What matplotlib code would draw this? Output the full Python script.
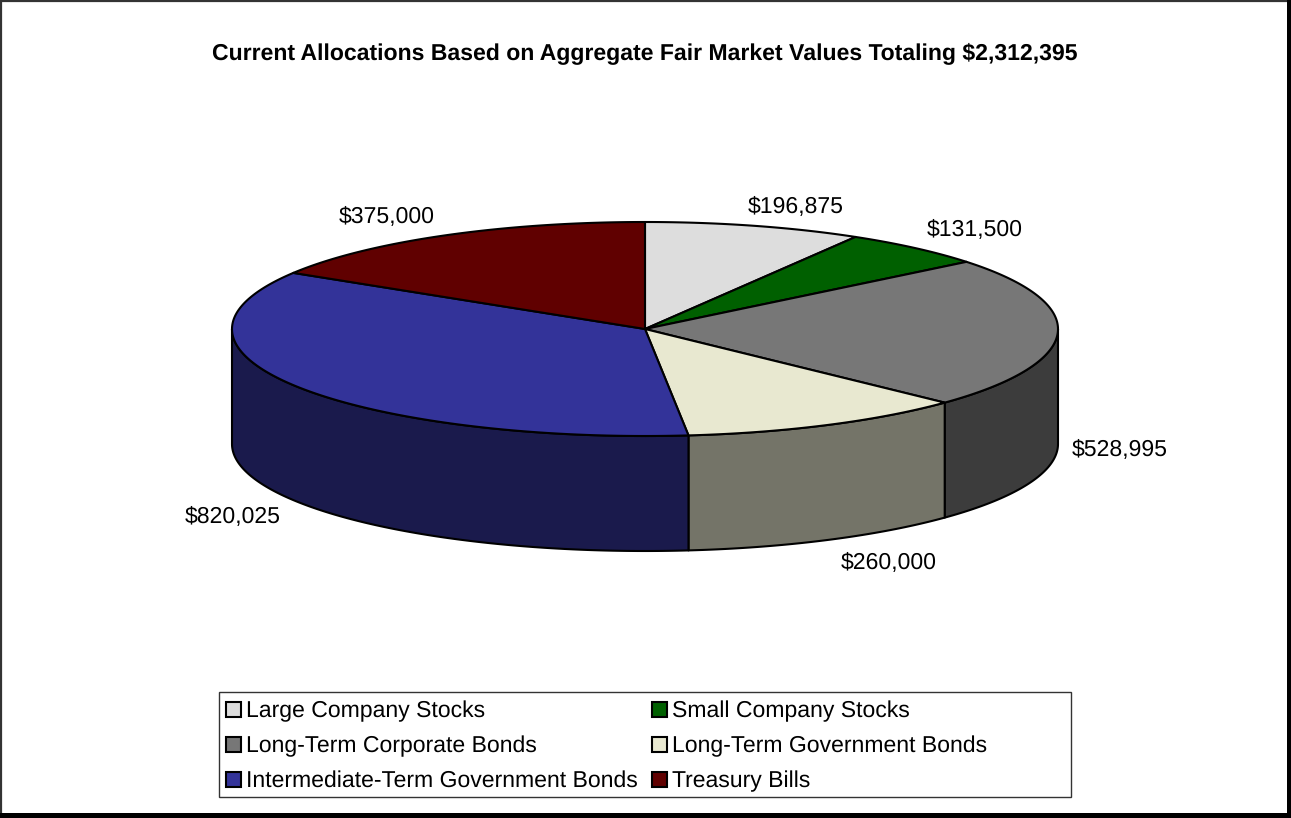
import numpy as np
import matplotlib
matplotlib.use('Agg')
import matplotlib.pyplot as plt
from matplotlib.patches import Polygon, Rectangle

plt.rcParams['font.family'] = ['Liberation Sans', 'DejaVu Sans']
plt.rcParams['text.hinting'] = 'no_hinting'
plt.rcParams['text.hinting_factor'] = 1

title = "Current Allocations Based on Aggregate Fair Market Values Totaling $2,312,395"
names = ["Large Company Stocks", "Small Company Stocks", "Long-Term Corporate Bonds",
         "Long-Term Government Bonds", "Intermediate-Term Government Bonds", "Treasury Bills"]
values = [196875, 131500, 528995, 260000, 820025, 375000]
top_colors = ["#dddddd", "#006000", "#777777", "#e8e8d0", "#333399", "#600000"]
side_colors = ["#6e6e6e", "#003000", "#3c3c3c", "#747468", "#1a1a4c", "#300000"]
label_pos = [(796, 212), (975, 235), (1120, 455), (889, 568), (233, 522), (387, 222)]

cx, cy, rx, ry, depth = 645, 329, 413, 107, 115


def arc(a0, a1, yoff=0):
    # angles clockwise from 12 o'clock, in degrees
    t = np.radians(np.linspace(a0, a1, max(int(abs(a1 - a0) * 2), 2)))
    return np.column_stack([cx + rx * np.sin(t), cy + yoff - ry * np.cos(t)])


fig = plt.figure(figsize=(12.91, 8.18), dpi=100)
ax = fig.add_axes([0, 0, 1, 1])
ax.set_xlim(0, 1291)
ax.set_ylim(818, 0)
ax.axis('off')

# outer frame with the heavy shadow on the right and bottom
ax.add_patch(Rectangle((1, 1), 1287.5, 813.5, fc='white', ec='#333333', lw=1.6))
ax.add_patch(Rectangle((1287, 0), 4, 818, fc='black', ec='none'))
ax.add_patch(Rectangle((0, 813), 1291, 5, fc='black', ec='none'))

ax.text(645, 59, title, ha='center', va='baseline', fontsize=16.5, fontweight='bold')

angles = np.concatenate([[0], np.cumsum(values) / np.sum(values) * 360])

# rim first, only the part facing us
for i in range(len(values)):
    a0, a1 = max(angles[i], 90), min(angles[i + 1], 270)
    if a1 <= a0:
        continue
    upper = arc(a0, a1)
    lower = arc(a0, a1, depth)[::-1]
    ax.add_patch(Polygon(np.vstack([upper, lower]), closed=True, fc=side_colors[i],
                         ec='black', lw=1.5, joinstyle='round'))

# top face
for i in range(len(values)):
    pts = np.vstack([[(cx, cy)], arc(angles[i], angles[i + 1])])
    ax.add_patch(Polygon(pts, closed=True, fc=top_colors[i], ec='black', lw=1.5,
                         joinstyle='round'))

for i in range(len(values)):
    ax.text(label_pos[i][0], label_pos[i][1], "${:,}".format(values[i]),
            ha='center', va='baseline', fontsize=16.5)

# legend
ax.add_patch(Rectangle((218.5, 691.5), 852, 105, fc='white', ec='#333333', lw=1))
col_x = [226, 652]
row_y = [717, 752, 787]
for i, name in enumerate(names):
    x, y = col_x[i % 2], row_y[i // 2]
    ax.add_patch(Rectangle((x, y - 15), 15, 15, fc=top_colors[i], ec='black', lw=1.5))
    ax.text(x + 20, y, name, ha='left', va='baseline', fontsize=16.5)

plt.savefig("out.png", dpi=100)
